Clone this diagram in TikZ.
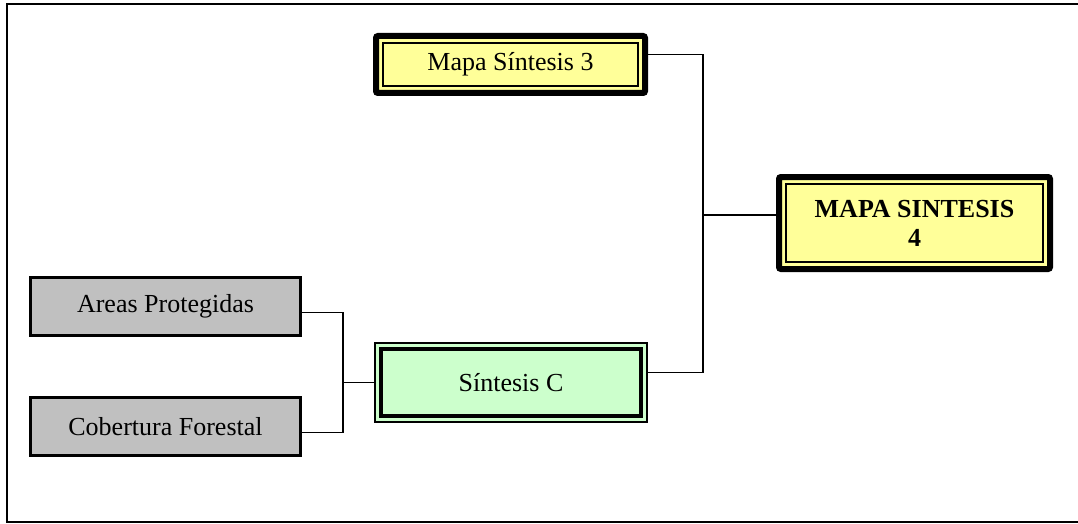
\documentclass[tikz,border=0pt]{standalone}
\usepackage{fontspec}
\setmainfont{Liberation Serif}
\definecolor{mapyellow}{HTML}{FFFF99}
\definecolor{mapgreen}{HTML}{CCFFCC}
\definecolor{mapgray}{HTML}{C0C0C0}
\tikzset{
  layerbox/.style={draw,line width=3pt,fill=mapgray,minimum width=270pt,minimum height=58pt,
    inner sep=0pt,font=\fontsize{26}{29}\selectfont},
  mapbox/.style={draw,line width=6pt,rounded corners=2pt,fill=mapyellow,inner sep=0pt,
    font=\fontsize{26}{29}\selectfont,
    path picture={\draw[line width=1.4pt,sharp corners]
      ([shift={(7pt,-7pt)}]path picture bounding box.north west) rectangle
      ([shift={(-7pt,7pt)}]path picture bounding box.south east);}},
  synthbox/.style={draw,line width=1.4pt,fill=mapgreen,inner sep=0pt,
    font=\fontsize{26}{29}\selectfont,
    path picture={\draw[line width=4.5pt]
      ([shift={(6pt,-6pt)}]path picture bounding box.north west) rectangle
      ([shift={(-6pt,6pt)}]path picture bounding box.south east);}},
  link/.style={line width=1.9pt}
}
\begin{document}
\begin{tikzpicture}[x=1pt,y=-1pt]
  \useasboundingbox (0,0) rectangle (1078,524);
  % frame
  \draw[line width=1.9pt] (1090,4) -- (7,4) -- (7,522) -- (1090,522);

  % input layers
  \node[layerbox] (areas) at (165.5,306.5) {Areas Protegidas};
  \node[layerbox] (cobertura) at (165.5,426.5) {Cobertura Forestal};

  % synthesis maps
  \node[synthbox,minimum width=272pt,minimum height=79pt] (sintC) at (511,382.5) {Síntesis C};
  \node[mapbox,minimum width=269pt,minimum height=57pt] (mapa3) at (510.5,64.5) {Mapa Síntesis 3};
  \node[mapbox,minimum width=271pt,minimum height=92pt,align=center,font=\fontsize{26}{29}\selectfont\bfseries]
    (mapa4) at (914.5,223) {MAPA SINTESIS\\4};

  % junctions
  \coordinate (jleft) at (343,382.5);
  \coordinate (jright) at (703,215);

  % connectors
  \draw[link] ([yshift=-6pt]areas.east) -| (jleft) |- ([yshift=-6pt]cobertura.east);
  \draw[link] (jleft) -- (sintC.west);
  \draw[link] ([yshift=10pt]sintC.east) -| (jright) |- ([yshift=10pt]mapa3.east);
  \draw[link] (jright) -- (mapa4.west |- jright);
\end{tikzpicture}
\end{document}
